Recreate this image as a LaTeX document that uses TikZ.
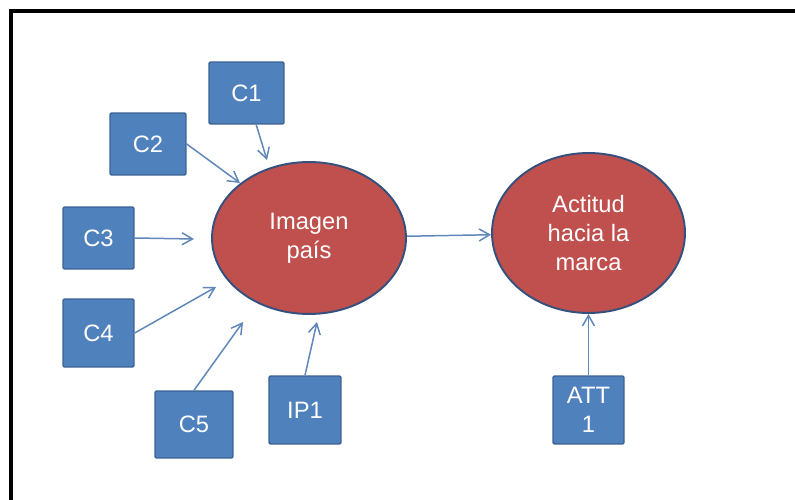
\documentclass[tikz,border=0pt]{standalone}
\usepackage{fontspec}
\setmainfont{Liberation Sans}
\usetikzlibrary{shapes.geometric,arrows.meta}

\definecolor{boxblue}{HTML}{4F81BD}
\definecolor{boxline}{HTML}{3A6092}
\definecolor{ovalred}{HTML}{C0504D}
\definecolor{ovalline}{HTML}{34507E}
\definecolor{linkblue}{HTML}{5F87B9}

\tikzset{mbox/.style = {shape = rectangle,
                        fill = boxblue,
                        draw = boxline,
                        line width = 0.8pt,
                        rounded corners = 0.8pt,
                        text = white,
                        inner sep = 0pt,
                        align = center,
                        font = \fontsize{13.5}{16.7}\selectfont},
         moval/.style = {shape = ellipse,
                        fill = ovalred,
                        draw = ovalline,
                        line width = 1.1pt,
                        text = white,
                        inner sep = 0pt,
                        align = center,
                        font = \fontsize{13.5}{16.7}\selectfont},
         mlink/.style = {draw = linkblue,
                        line width = 0.85pt,
                        -{Straight Barb[length=2.1mm,width=2.4mm]}}}

\begin{document}
\begin{tikzpicture}[x=0.02cm, y=-0.02cm]
		\useasboundingbox (0,0) rectangle (795,500);
		% frame
		\draw[line width=0.08cm] (795,11) -- (11,11) -- (11,500);
		% constructs
		\node[moval, minimum width=3.88cm, minimum height=3.04cm] (img) at (309,238) {Imagen\\pa\'is};
		\node[moval, minimum width=3.86cm, minimum height=3.2cm] (act) at (588.5,233) {Actitud\\hacia la\\marca};
		% indicators
		\node[mbox, minimum width=1.5cm, minimum height=1.24cm] (c1) at (246.5,93) {C1};
		\node[mbox, minimum width=1.52cm, minimum height=1.24cm] (c2) at (148,144) {C2};
		\node[mbox, minimum width=1.42cm, minimum height=1.24cm] (c3) at (98.5,238) {C3};
		\node[mbox, minimum width=1.42cm, minimum height=1.36cm] (c4) at (98.5,333) {C4};
		\node[mbox, minimum width=1.56cm, minimum height=1.34cm] (c5) at (194,424.5) {C5};
		\node[mbox, minimum width=1.44cm, minimum height=1.36cm] (ip1) at (305,410) {IP1};
		\node[mbox, minimum width=1.42cm, minimum height=1.36cm] (att1) at (588.5,410) {ATT\\1};
		% arrow tips
		\coordinate (t1) at (267,160);
		\coordinate (t2) at (240,183);
		\coordinate (t3) at (194,239);
		\coordinate (t4) at (216,287);
		\coordinate (t5) at (243,322);
		\coordinate (t6) at (317,322);
		\path (c1) edge[mlink] (t1);
		\path (c2.east) edge[mlink] (t2);
		\path (c3.east) edge[mlink] (t3);
		\path (c4.east) edge[mlink] (t4);
		\path (c5.north) edge[mlink] (t5);
		\path (ip1.north) edge[mlink] (t6);
		\path (img) edge[mlink] (act);
		\path (att1) edge[mlink] (act);
	\end{tikzpicture}
\end{document}
